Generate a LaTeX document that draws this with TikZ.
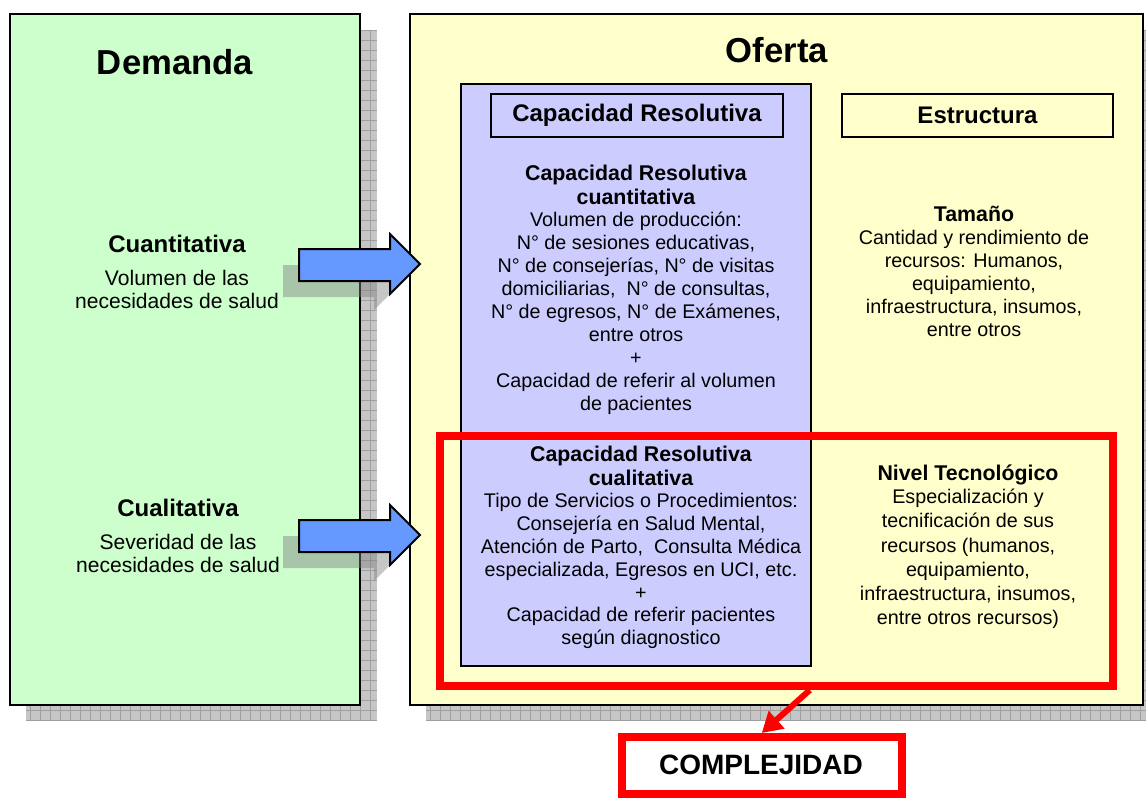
\documentclass[tikz,border=0pt]{standalone}
\usepackage{fontspec}
\setmainfont{Liberation Sans}
\usetikzlibrary{arrows.meta, fit, positioning}
\definecolor{demverde}{HTML}{CCFFCC}
\definecolor{ofamarillo}{HTML}{FFFFCC}
\definecolor{caplila}{HTML}{CCCCFF}
\definecolor{flechaazul}{HTML}{6699FF}
\tikzstyle{sombra} = [fill=gray!45]
\tikzstyle{cuadricula} = [draw=gray!75, line width=0.4pt]
\tikzstyle{panel} = [draw=black, line width=1.5pt, inner sep=0pt]
\tikzstyle{titulo} = [draw=black, line width=1.1pt, inner sep=0pt]
\tikzstyle{titulotxt} = [font=\bfseries\fontsize{18}{21}\selectfont]
\tikzstyle{grande} = [font=\bfseries\fontsize{26}{30}\selectfont]
\tikzstyle{lado} = [font=\bfseries\fontsize{18}{21}\selectfont]
\tikzstyle{ladotxt} = [align=center, inner sep=0pt, font=\fontsize{15.8}{17.2}\selectfont]
\tikzstyle{cabeza} = [align=center, inner sep=0pt, font=\bfseries\fontsize{16}{18}\selectfont]
\tikzstyle{texto} = [align=center, inner sep=0pt, font=\fontsize{14.8}{17.2}\selectfont]
\tikzstyle{marcorojo} = [draw=red, line width=6pt, inner sep=0pt]
\tikzstyle{flecha} = [draw=black, line width=1.5pt, fill=flechaazul, line join=miter]
\tikzstyle{flecharoja} = [draw=red, line width=4.5pt, -{Triangle[length=15pt,width=17pt]}]

\begin{document}
\begin{tikzpicture}[x=0.75pt, y=-0.75pt]
    \useasboundingbox (0,0) rectangle (1146,797);
    \clip (0,0) rectangle (1146,797);
    % sombras
    \fill [sombra] (26,30) rectangle (377,721);
    \draw [cuadricula, step=7.5pt] (26,30) grid (377,721);
    \fill [sombra] (426,30) rectangle (1160,721);
    \draw [cuadricula, step=7.5pt] (426,30) grid (1160,721);
    % paneles
    \node [panel, fill=demverde, fit={(10,14) (360,705)}] (demanda) {};
    \node [panel, fill=ofamarillo, fit={(410,14) (1143,705)}] (oferta) {};
    \node [panel, fill=caplila, fit={(461,84) (811,666)}] (capres) {};
    \node [titulo, fill=caplila, fit={(491,94) (783,137)}] (tcapres) {};
    \node [titulotxt] at (tcapres.center) (tcaprestxt) {Capacidad Resolutiva};
    \node [titulo, fill=ofamarillo, fit={(842,94) (1113,137)}] (testr) {};
    \node [titulotxt] at (testr.center) (testrtxt) {Estructura};
    \node [grande] at (175,62) (tdem) {Demanda};
    \node [grande] at (777,50) (tof) {Oferta};
    % flechas azules
    \foreach \yc in {264,535} {
        \fill [gray, opacity=0.45] (283,\yc+1) -- (374,\yc+1) -- (374,\yc-14) -- (404,\yc+16) -- (374,\yc+46) -- (374,\yc+33) -- (283,\yc+33) -- cycle;
        \draw [flecha] (299,\yc-15) -- (390,\yc-15) -- (390,\yc-30) -- (420,\yc) -- (390,\yc+30) -- (390,\yc+17) -- (299,\yc+17) -- cycle;
    }
    % demanda
    \node [lado] at (177,244) (cuant) {Cuantitativa};
    \node [ladotxt] at (177,289.5) (cuanttxt) {Volumen de las\\necesidades de salud};
    \node [lado] at (178,508) (cual) {Cualitativa};
    \node [ladotxt] at (178,553.5) (cualtxt) {Severidad de las\\necesidades de salud};
    % capacidad resolutiva
    \node [cabeza] at (636,185) (crcuant) {Capacidad Resolutiva\\cuantitativa};
    \node [texto] at (636,313.5) (crcuanttxt) {Volumen de producción:\\N° de sesiones educativas,\\N° de consejerías, N° de visitas\\domiciliarias,\ \ N° de consultas,\\N° de egresos, N° de Exámenes,\\entre otros\\+\\Capacidad de referir al volumen\\de pacientes};
    \node [cabeza] at (641,465.5) (crcual) {Capacidad Resolutiva\\cualitativa};
    \node [texto] at (641,571) (crcualtxt) {Tipo de Servicios o Procedimientos:\\Consejería en Salud Mental,\\Atención de Parto,\ \ Consulta Médica\\especializada, Egresos en UCI, etc.\\+\\Capacidad de referir pacientes\\según diagnostico};
    % estructura
    \node [cabeza] at (974,214) (tamano) {Tamaño};
    \node [texto] at (974,283.5) (tamanotxt) {Cantidad y rendimiento de\\recursos: Humanos,\\equipamiento,\\infraestructura, insumos,\\entre otros};
    \node [cabeza] at (968,475) (nivel) {Nivel Tecnológico};
    \node [texto, font=\fontsize{14.8}{18.2}\selectfont] at (968,559) (niveltxt) {Especialización y\\tecnificación de sus\\recursos (humanos,\\equipamiento,\\infraestructura, insumos,\\entre otros recursos)};
    % complejidad
    \node [marcorojo, fit={(440,435.5) (1113,686)}] (cuali) {};
    \node [marcorojo, fill=white, fit={(621.5,737) (902,794)}] (complejidad) {};
    \node [font=\bfseries\fontsize{21}{24}\selectfont] at (761,765) (complejidadtxt) {COMPLEJIDAD};
    \draw [flecharoja] ([xshift=25pt]cuali.south) -- (complejidad.north);
\end{tikzpicture}
\end{document}
